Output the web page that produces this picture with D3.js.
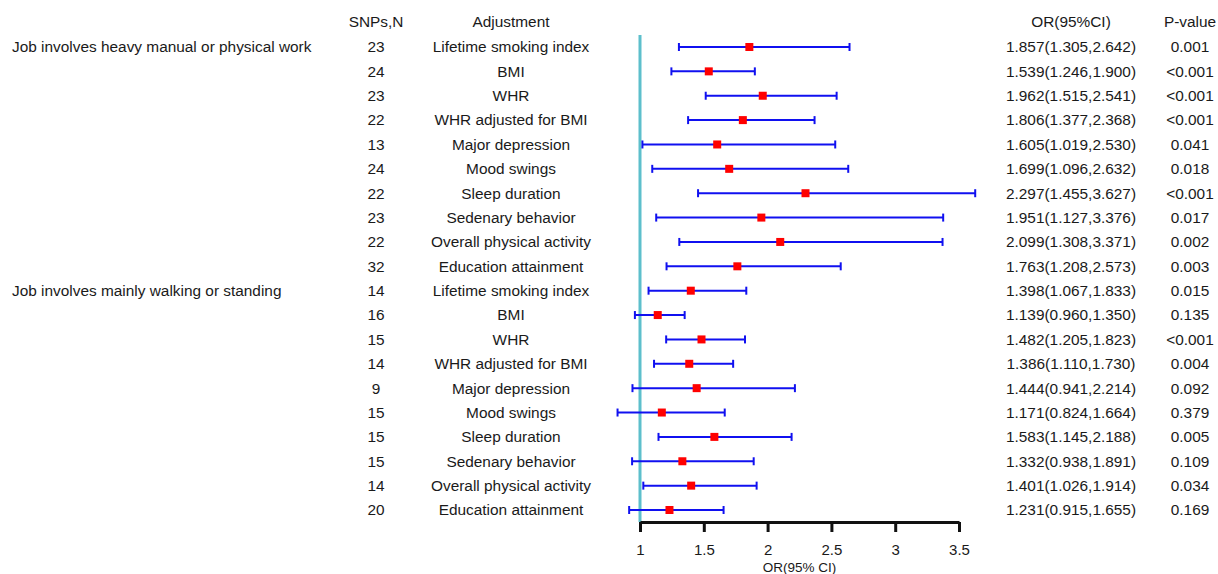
<!DOCTYPE html>
<html>
<head>
<meta charset="utf-8">
<script src="https://cdn.jsdelivr.net/npm/d3@7"></script>
<style>
  body{margin:0;background:#fff;}
  text{font-family:"Liberation Sans",Arial,sans-serif;fill:#1a1a1a;}
</style>
</head>
<body>
<div class="canvas"></div>
<script>
// data
const groups=['Job involves heavy manual or physical work','Job involves mainly walking or standing'];
const adjustments=['Lifetime smoking index','BMI','WHR','WHR adjusted for BMI','Major depression','Mood swings','Sleep duration','Sedenary behavior','Overall physical activity','Education attainment'];
const snps=[23,24,23,22,13,24,22,23,22,32, 14,16,15,14,9,15,15,15,14,20];
const or=[1.857,1.539,1.962,1.806,1.605,1.699,2.297,1.951,2.099,1.763, 1.398,1.139,1.482,1.386,1.444,1.171,1.583,1.332,1.401,1.231];
const lower=[1.305,1.246,1.515,1.377,1.019,1.096,1.455,1.127,1.308,1.208, 1.067,0.960,1.205,1.110,0.941,0.824,1.145,0.938,1.026,0.915];
const upper=[2.642,1.900,2.541,2.368,2.530,2.632,3.627,3.376,3.371,2.573, 1.833,1.350,1.823,1.730,2.214,1.664,2.188,1.891,1.914,1.655];
const pvals=['0.001','<0.001','<0.001','<0.001','0.041','0.018','<0.001','0.017','0.002','0.003',
             '0.015','0.135','<0.001','0.004','0.092','0.379','0.005','0.109','0.034','0.169'];
const xTicks=[1,1.5,2,2.5,3,3.5];

const dims={width:1218,height:574};
const rows=d3.range(or.length).map(i=>({
  i,
  group:i%10===0?groups[Math.floor(i/10)]:'',
  adj:adjustments[i%10],
  n:snps[i], or:or[i], lo:lower[i], hi:upper[i], p:pvals[i]
}));

const svg=d3.select('.canvas').append('svg')
  .attr('width',dims.width)
  .attr('height',dims.height);

const x=d3.scaleLinear().domain([1,3.5]).range([640,959]);
const y=d3.scalePoint().domain(d3.range(rows.length)).range([47,510]);

const col={group:12,snp:376,adj:511,or:1071,p:1190};
const fs='15.4px';

// header
const header=svg.append('g').attr('font-size',fs);
[['SNPs,N',col.snp],['Adjustment',col.adj],['OR(95%CI)',col.or],['P-value',col.p]].forEach(([t,cx])=>{
  header.append('text').attr('x',cx).attr('y',22).attr('dy','0.35em')
    .attr('text-anchor','middle').text(t);
});

// table columns
const table=svg.append('g').attr('font-size',fs);
const rowG=table.selectAll('g.row').data(rows).enter().append('g')
  .attr('class','row')
  .attr('transform',d=>`translate(0,${y(d.i)})`);
rowG.append('text').attr('x',col.group).attr('dy','0.35em').text(d=>d.group);
rowG.append('text').attr('x',col.snp).attr('dy','0.35em').attr('text-anchor','middle').text(d=>d.n);
rowG.append('text').attr('x',col.adj).attr('dy','0.35em').attr('text-anchor','middle').text(d=>d.adj);
rowG.append('text').attr('x',col.or).attr('dy','0.35em').attr('text-anchor','middle')
  .text(d=>`${d.or.toFixed(3)}(${d.lo.toFixed(3)},${d.hi.toFixed(3)})`);
rowG.append('text').attr('x',col.p).attr('dy','0.35em').attr('text-anchor','middle').text(d=>d.p);

// reference line at OR=1
svg.append('line')
  .attr('x1',x(1)).attr('x2',x(1))
  .attr('y1',35).attr('y2',522)
  .attr('stroke','#5dbfcc').attr('stroke-width',3);

// CI bars
const ci=svg.append('g');
const bars=ci.selectAll('g.ci').data(rows).enter().append('g')
  .attr('class','ci')
  .attr('transform',d=>`translate(0,${y(d.i)})`);
bars.append('line')
  .attr('x1',d=>x(d.lo)).attr('x2',d=>x(d.hi))
  .attr('stroke','#1010f0').attr('stroke-width',2);
bars.selectAll('line.cap').data(d=>[d.lo,d.hi]).enter().append('line')
  .attr('class','cap')
  .attr('x1',v=>x(v)).attr('x2',v=>x(v))
  .attr('y1',-4).attr('y2',4)
  .attr('stroke','#1010f0').attr('stroke-width',2);
const sq=8;
bars.append('rect')
  .attr('x',d=>x(d.or)-sq/2).attr('y',-sq/2)
  .attr('width',sq).attr('height',sq)
  .attr('fill','#ff0000');

// x axis
const axis=d3.axisBottom(x).tickValues(xTicks).tickSize(10).tickSizeOuter(0).tickPadding(12)
  .tickFormat(d3.format('~g'));
const axG=svg.append('g').attr('transform','translate(0,522)').call(axis);
axG.select('.domain').attr('stroke','#111').attr('stroke-width',3);
axG.selectAll('.tick line').attr('stroke','#111').attr('stroke-width',3);
axG.selectAll('.tick text').attr('font-size','15px').attr('font-family','"Liberation Sans",Arial,sans-serif').attr('fill','#1a1a1a');

svg.append('text')
  .attr('x',(x(1)+x(3.5))/2).attr('y',567).attr('dy','0.35em')
  .attr('text-anchor','middle').attr('font-size','13.5px')
  .text('OR(95% CI)');
</script>
</body>
</html>
